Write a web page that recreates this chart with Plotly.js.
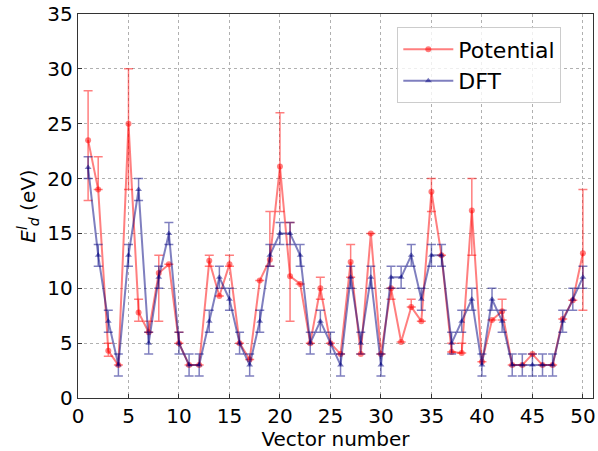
<!DOCTYPE html>
<html><head><meta charset="utf-8">
<script src="https://cdn.plot.ly/plotly-3.0.1.min.js"></script>
<style>html,body{margin:0;padding:0;background:#fff}#chart{width:598px;height:451px}</style>
</head><body><div id="chart"></div>
<script>
const vectorNumber = Array.from({length: 50}, (_, i) => i + 1);
const potentialValues = [23.5,19,4.3,3,25,7.8,6,11.4,12.2,5,3,3,12.5,9.3,12.2,5,3.5,10.7,12.6,21.1,11.1,10.4,5,10,5,4,12.4,4,15,4,10,5.1,8.3,7,18.8,13,4.2,4.1,17.1,3.3,7.1,7.9,3,3,4,3,3,7.2,8.9,13.2];
const potentialErrPlus = [4.5,3,0.7,0,5,1.2,1,1.6,0,1,0,0,0.5,0,0.8,0,0,0,4.4,4.9,4.9,0,0,1,0,0,1.6,0,0,0,0,0,0.7,0,1.2,0,0.8,0.9,2.9,0,0,1.1,0,0,0,0,0,0,0,5.8];
const potentialErrMinus = [5.5,0,0.5,0,6,0.8,0,4.4,0,0,0,0,0.5,0,0.2,0,0,0,0.6,4.1,4.1,0,0,1,0,0,1.4,0,0,0,1,0,0,0,1.8,0,0,0,4.1,0,0,0.8,0,0,0,0,0,0,0,5.2];
const dftValues = [21,13,7,3,13,19,5,11,15,5,3,3,7,11,9,5,3,7,13,15,15,13,5,7,5,3,11,5,11,3,11,11,13,9,13,13,5,7,9,3,9,7,3,3,3,3,3,7,9,11];
const dftErr = [1,1,1,1,1,1,1,1,1,1,1,1,1,1,1,1,1,1,1,1,1,1,1,1,1,1,1,1,1,1,1,1,1,1,1,1,1,1,1,1,1,1,1,1,1,1,1,1,1,1];
const xTicks = [0,5,10,15,20,25,30,35,40,45,50];
const yTicks = [0,5,10,15,20,25,30,35];

const red = 'rgba(255,0,0,0.5)';
const navy = 'rgba(0,0,128,0.5)';

const traces = [
  {x: vectorNumber, y: potentialValues, name: 'Potential', type: 'scatter', mode: 'lines+markers',
   line: {color: red, width: 2}, marker: {color: red, size: 6, symbol: 'circle'},
   error_y: {type: 'data', symmetric: false, array: potentialErrPlus, arrayminus: potentialErrMinus, color: red, thickness: 1.5, width: 4.5}},
  {x: vectorNumber, y: dftValues, name: 'DFT', type: 'scatter', mode: 'lines+markers',
   line: {color: navy, width: 2}, marker: {color: navy, size: 6, symbol: 'triangle-up'},
   error_y: {type: 'data', symmetric: true, array: dftErr, color: navy, thickness: 1.5, width: 4.5}}
];

const axisCommon = {
  showline: true, mirror: true, linecolor: '#333', linewidth: 1.2,
  ticks: 'inside', ticklen: 4, tickcolor: '#333',
  showgrid: true, gridcolor: '#b0b0b0', griddash: 'dot', gridwidth: 1,
  zeroline: false, tickfont: {family: 'DejaVu Sans', size: 20, color: '#000'}
};

const layout = {
  width: 598, height: 451,
  margin: {l: 78, r: 5, t: 14, b: 53},
  paper_bgcolor: '#fff', plot_bgcolor: '#fff',
  font: {family: 'DejaVu Sans', color: '#000'},
  showlegend: true,
  legend: {x: 0.62, y: 0.965, xanchor: 'left', yanchor: 'top', bgcolor: 'rgba(255,255,255,0.8)',
           bordercolor: '#cccccc', borderwidth: 1, itemwidth: 50,
           font: {family: 'DejaVu Sans', size: 22, color: '#000'}},
  xaxis: Object.assign({}, axisCommon, {range: [0, 51], tickvals: xTicks, ticktext: xTicks.map(String),
           title: {text: 'Vector number', font: {family: 'DejaVu Sans', size: 20, color: '#000'}, standoff: 4}}),
  yaxis: Object.assign({}, axisCommon, {range: [0, 35], tickvals: yTicks, ticktext: yTicks.map(String),
           title: {text: '<i>E</i><sup><i>l</i></sup><sub><i>d</i></sub> (eV)', font: {family: 'DejaVu Sans', size: 20, color: '#000'}, standoff: 6}})
};

Plotly.newPlot('chart', traces, layout, {displayModeBar: false, staticPlot: true});
</script></body></html>
